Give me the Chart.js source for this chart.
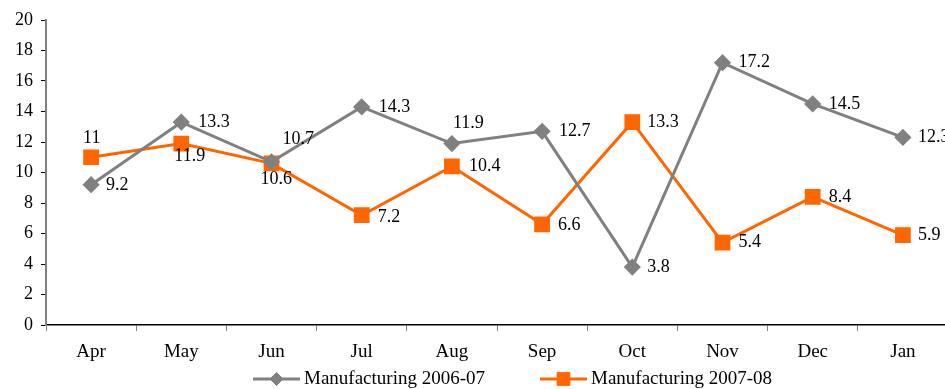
<!DOCTYPE html>
<html>
<head>
<meta charset="utf-8">
<script src="https://cdn.jsdelivr.net/npm/chart.js@4"></script>
<style>
  html, body { margin: 0; padding: 0; background: #fff; overflow: hidden; }
  #wrap { width: 960px; height: 389px; }
</style>
</head>
<body>
<div id="wrap"><canvas id="mfgChart"></canvas></div>
<script>
const months = ["Apr", "May", "Jun", "Jul", "Aug", "Sep", "Oct", "Nov", "Dec", "Jan"];
const mfg0607 = [9.2, 13.3, 10.7, 14.3, 11.9, 12.7, 3.8, 17.2, 14.5, 12.3];
const mfg0708 = [11, 11.9, 10.6, 7.2, 10.4, 6.6, 13.3, 5.4, 8.4, 5.9];
const yTicks = [0, 2, 4, 6, 8, 10, 12, 14, 16, 18, 20];

// where each value label sits, relative to its point (left edge, middle)
const offs0607 = [[15, 1], [17, 0], [11, -23], [17, 0], [1, -20], [17, 0], [15, 0], [16, 0], [16, 0], [15, 0]];
const offs0708 = [[-8, -19], [-7, 13], [-11, 16], [16, 2], [17, 0], [16, 1], [15, 0], [16, 0], [16, 0], [15, 0]];

const GRAY = "#808080";
const ORANGE = "#FF6600";
const SERIF = "'Liberation Serif', 'Times New Roman', serif";

const valueLabels = {
    id: "valueLabels",
    afterDatasetsDraw(chart) {
        const ctx = chart.ctx;
        ctx.save();
        ctx.font = "18px " + SERIF;
        ctx.fillStyle = "#000";
        ctx.textAlign = "left";
        ctx.textBaseline = "middle";
        chart.data.datasets.forEach((ds, i) => {
            const pts = chart.getDatasetMeta(i).data;
            pts.forEach((p, j) => {
                const o = ds.labelOffsets[j];
                ctx.fillText(String(ds.data[j]), p.x + o[0], p.y + o[1]);
            });
        });
        ctx.restore();
    }
};

const lineLegend = {
    id: "lineLegend",
    afterDraw(chart) {
        const ctx = chart.ctx;
        const y = 379;
        const items = [
            { x0: 253, ds: chart.data.datasets[0] },
            { x0: 540, ds: chart.data.datasets[1] }
        ];
        ctx.save();
        items.forEach(it => {
            const ds = it.ds;
            ctx.strokeStyle = ds.borderColor;
            ctx.lineWidth = 3;
            ctx.beginPath();
            ctx.moveTo(it.x0, y);
            ctx.lineTo(it.x0 + 47, y);
            ctx.stroke();
            ctx.fillStyle = ds.pointBackgroundColor;
            ctx.strokeStyle = ds.pointBorderColor;
            ctx.lineWidth = 1;
            Chart.helpers.drawPoint(ctx, {
                pointStyle: ds.pointStyle,
                rotation: 0,
                radius: ds.pointRadius,
                borderWidth: 1
            }, it.x0 + 23.5, y);
            ctx.fillStyle = "#000";
            ctx.font = "19px " + SERIF;
            ctx.textAlign = "left";
            ctx.textBaseline = "middle";
            ctx.fillText(ds.label, it.x0 + 51, y);
        });
        ctx.restore();
    }
};

new Chart(document.getElementById("mfgChart"), {
    type: "line",
    data: {
        labels: months,
        datasets: [{
            label: "Manufacturing 2006-07",
            data: mfg0607,
            labelOffsets: offs0607,
            borderColor: GRAY,
            borderWidth: 3,
            pointStyle: "rectRot",
            pointRadius: 6.5,
            pointHoverRadius: 6.5,
            pointBackgroundColor: GRAY,
            pointBorderColor: GRAY,
            tension: 0
        }, {
            label: "Manufacturing 2007-08",
            data: mfg0708,
            labelOffsets: offs0708,
            borderColor: ORANGE,
            borderWidth: 3,
            pointStyle: "rect",
            pointRadius: 9,
            pointHoverRadius: 9,
            pointBackgroundColor: ORANGE,
            pointBorderColor: ORANGE,
            tension: 0
        }]
    },
    options: {
        responsive: true,
        maintainAspectRatio: false,
        animation: false,
        layout: { padding: { top: 20, right: 8, left: 0, bottom: 0 } },
        plugins: {
            legend: { display: false },
            tooltip: { enabled: false }
        },
        scales: {
            x: {
                offset: true,
                grid: {
                    offset: true,
                    drawOnChartArea: false,
                    drawTicks: true,
                    tickLength: 6,
                    color: GRAY
                },
                border: { color: "#000", width: 1.5 },
                ticks: {
                    color: "#000",
                    font: { family: SERIF, size: 19 },
                    padding: 10,
                    maxRotation: 0,
                    autoSkip: false
                },
                afterFit: s => { s.height = 64; }
            },
            y: {
                min: 0,
                max: 20,
                afterBuildTicks: s => { s.ticks = yTicks.map(v => ({ value: v })); },
                grid: {
                    drawOnChartArea: false,
                    drawTicks: true,
                    tickLength: 5,
                    color: "#000"
                },
                border: { color: GRAY, width: 2 },
                ticks: {
                    color: "#000",
                    font: { family: SERIF, size: 18 },
                    padding: 8
                },
                afterFit: s => { s.width = 46; }
            }
        }
    },
    plugins: [valueLabels, lineLegend]
});
</script>
</body>
</html>
